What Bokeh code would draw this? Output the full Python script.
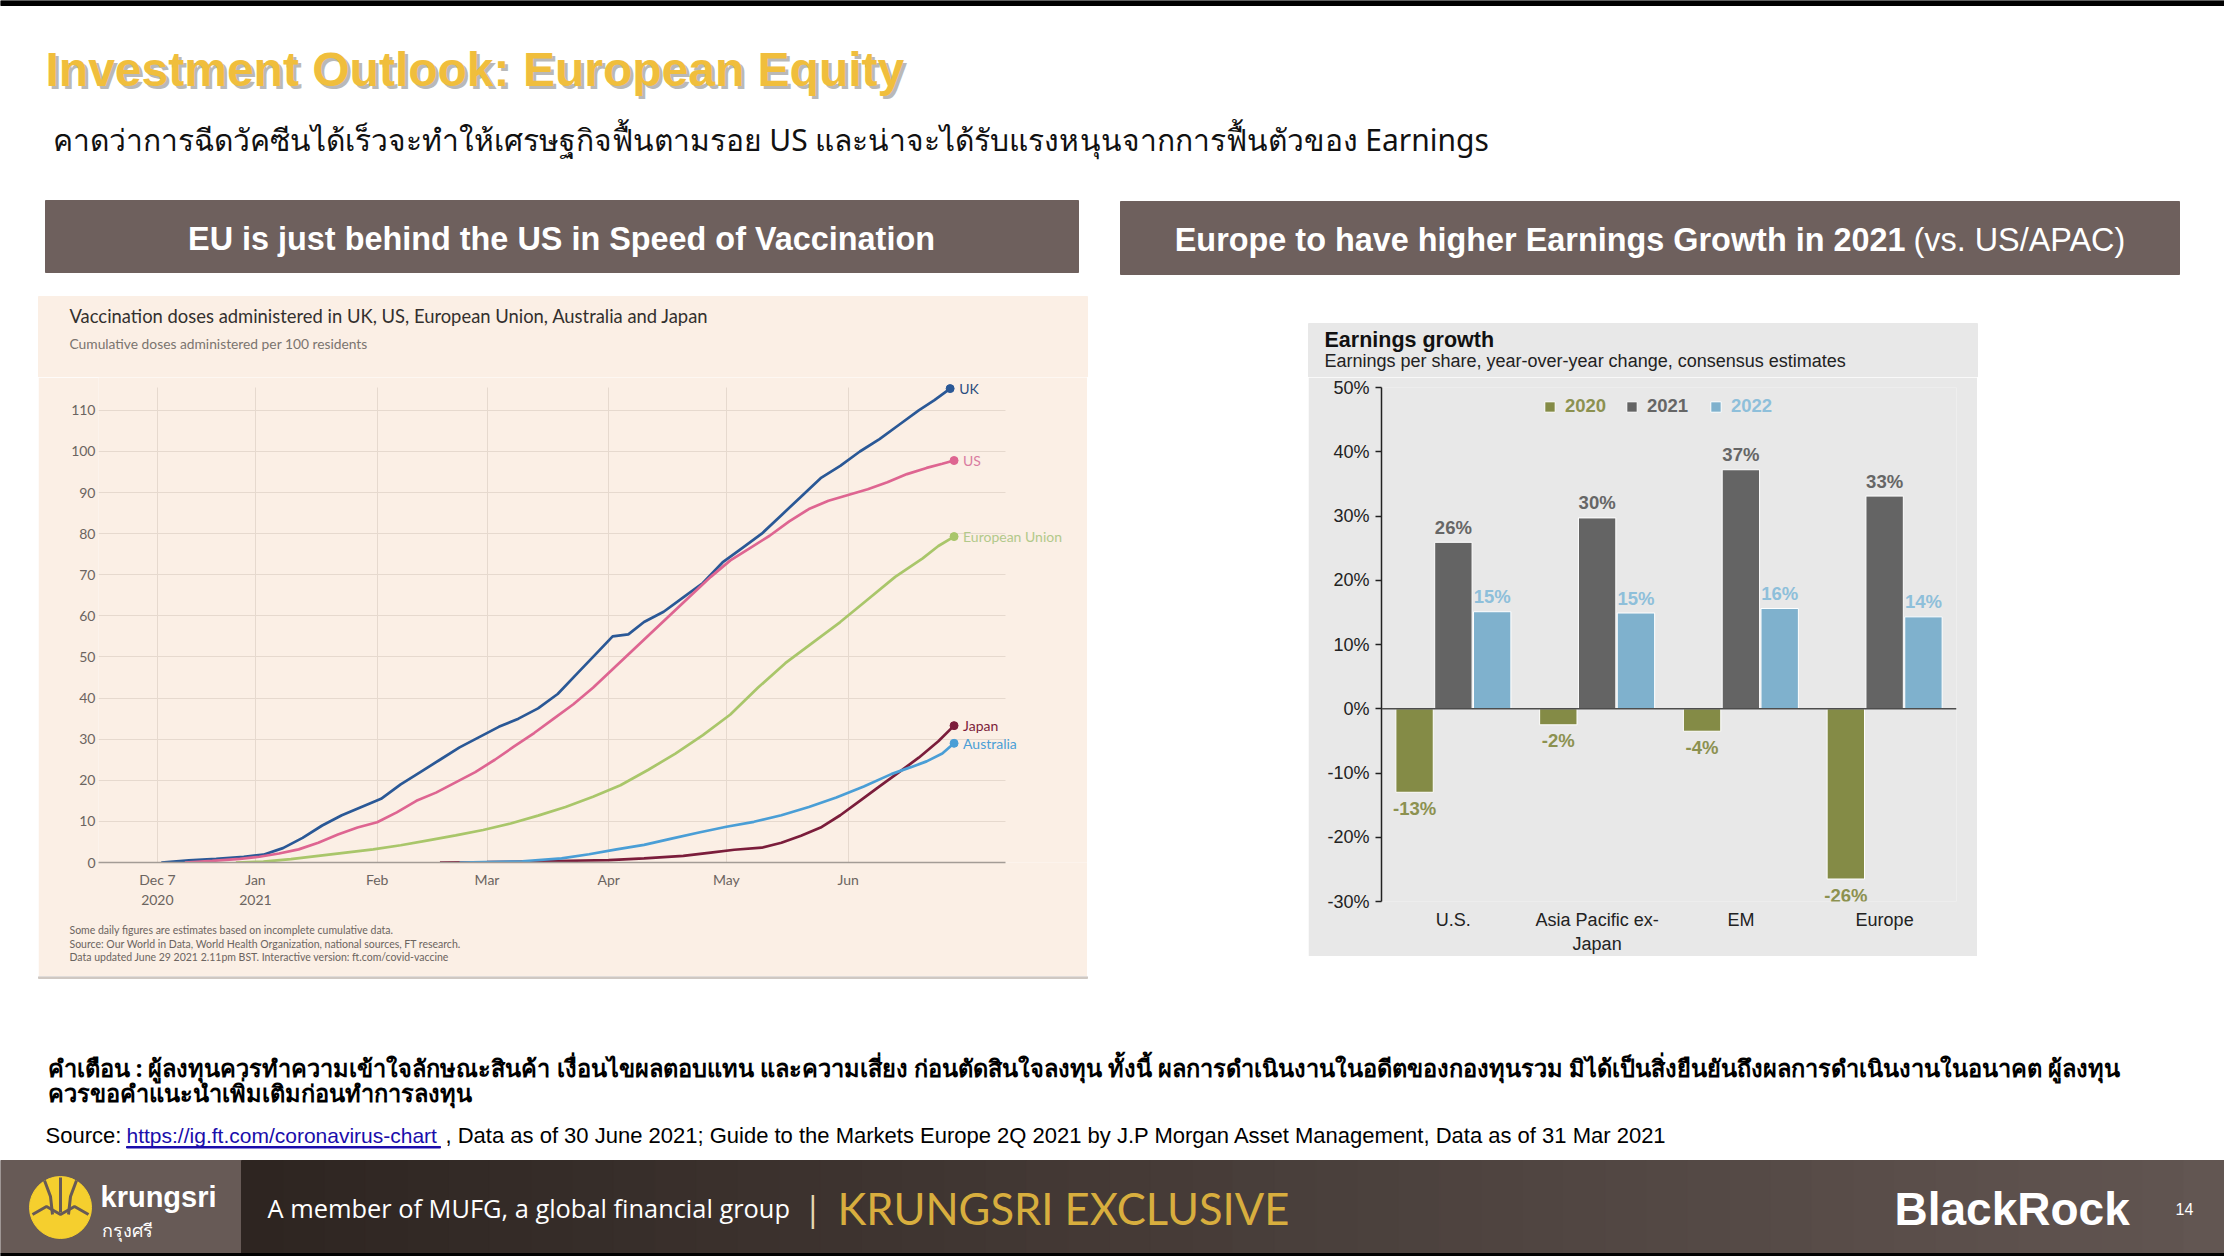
import pandas as pd
from bokeh.plotting import figure
from bokeh.layouts import column, row
from bokeh.models import (Range1d, FactorRange, FixedTicker, Label, Span, Legend, LegendItem,
                          ColumnDataSource, PrintfTickFormatter, Spacer, Title, Grid)
from bokeh.transform import dodge
from bokeh.core.properties import value
from bokeh.embed import file_html
from bokeh.resources import INLINE

# ---------------- data: vaccination chart (cumulative doses per 100 residents) ----------------
uk_dates = ["2020-12-08", "2020-12-15", "2020-12-22", "2020-12-29", "2021-01-03", "2021-01-08",
            "2021-01-13", "2021-01-18", "2021-01-23", "2021-01-28", "2021-02-02", "2021-02-07",
            "2021-02-12", "2021-02-17", "2021-02-22", "2021-02-27", "2021-03-04", "2021-03-09",
            "2021-03-14", "2021-03-19", "2021-03-24", "2021-03-29", "2021-04-02", "2021-04-06",
            "2021-04-10", "2021-04-15", "2021-04-20", "2021-04-25", "2021-04-30", "2021-05-05",
            "2021-05-10", "2021-05-15", "2021-05-20", "2021-05-25", "2021-05-30", "2021-06-04",
            "2021-06-09", "2021-06-14", "2021-06-19", "2021-06-23", "2021-06-27"]
uk_doses = [0.0, 0.5, 0.9, 1.4, 1.9, 3.5, 6.0, 9.0, 11.5, 13.5, 15.5, 19.0, 22.0, 25.0, 28.0, 30.5,
            33.0, 35.0, 37.5, 41.0, 46.0, 51.0, 55.0, 55.5, 58.5, 61.0, 64.5, 68.0, 73.0, 76.5,
            80.0, 84.5, 89.0, 93.5, 96.5, 100.0, 103.0, 106.5, 110.0, 112.5, 115.3]

us_dates = ["2020-12-14", "2020-12-21", "2020-12-28", "2021-01-02", "2021-01-07", "2021-01-12",
            "2021-01-17", "2021-01-22", "2021-01-27", "2021-02-01", "2021-02-06", "2021-02-11",
            "2021-02-16", "2021-02-21", "2021-02-26", "2021-03-03", "2021-03-08", "2021-03-13",
            "2021-03-18", "2021-03-23", "2021-03-28", "2021-04-02", "2021-04-07", "2021-04-12",
            "2021-04-17", "2021-04-22", "2021-04-27", "2021-05-02", "2021-05-07", "2021-05-12",
            "2021-05-17", "2021-05-22", "2021-05-27", "2021-06-01", "2021-06-06", "2021-06-11",
            "2021-06-16", "2021-06-21", "2021-06-25", "2021-06-28"]
us_doses = [0.0, 0.4, 0.9, 1.4, 2.2, 3.2, 4.8, 6.8, 8.5, 9.8, 12.2, 15.0, 17.0, 19.5, 22.0, 25.0,
            28.3, 31.5, 35.0, 38.5, 42.5, 47.0, 51.5, 56.0, 60.5, 65.0, 69.5, 73.5, 76.5, 79.5,
            83.0, 86.0, 88.0, 89.4, 90.8, 92.5, 94.5, 96.0, 97.0, 97.8]

eu_dates = ["2020-12-27", "2021-01-03", "2021-01-10", "2021-01-17", "2021-01-24", "2021-01-31",
            "2021-02-07", "2021-02-14", "2021-02-21", "2021-02-28", "2021-03-07", "2021-03-14",
            "2021-03-21", "2021-03-28", "2021-04-04", "2021-04-11", "2021-04-18", "2021-04-25",
            "2021-05-02", "2021-05-09", "2021-05-16", "2021-05-23", "2021-05-30", "2021-06-06",
            "2021-06-13", "2021-06-20", "2021-06-24", "2021-06-28"]
eu_doses = [0.0, 0.2, 0.8, 1.6, 2.4, 3.2, 4.2, 5.4, 6.6, 7.9, 9.5, 11.4, 13.5, 16.0, 18.8, 22.5,
            26.5, 31.0, 36.0, 42.5, 48.5, 53.5, 58.5, 64.0, 69.5, 74.0, 77.0, 79.3]

jp_dates = ["2021-02-17", "2021-03-01", "2021-03-15", "2021-04-01", "2021-04-10", "2021-04-20",
            "2021-04-27", "2021-05-03", "2021-05-10", "2021-05-15", "2021-05-20", "2021-05-25",
            "2021-05-30", "2021-06-04", "2021-06-09", "2021-06-14", "2021-06-19", "2021-06-24",
            "2021-06-28"]
jp_doses = [0.0, 0.1, 0.3, 0.6, 1.0, 1.6, 2.4, 3.1, 3.6, 4.8, 6.5, 8.5, 11.5, 15.0, 18.5, 22.0,
            25.5, 29.5, 33.3]

au_dates = ["2021-02-22", "2021-03-10", "2021-03-20", "2021-03-27", "2021-04-03", "2021-04-10",
            "2021-04-17", "2021-04-24", "2021-05-01", "2021-05-08", "2021-05-15", "2021-05-22",
            "2021-05-29", "2021-06-05", "2021-06-12", "2021-06-17", "2021-06-21", "2021-06-25",
            "2021-06-28"]
au_doses = [0.0, 0.3, 1.0, 2.0, 3.2, 4.3, 5.8, 7.3, 8.7, 9.9, 11.5, 13.5, 15.8, 18.5, 21.5, 23.2,
            24.6, 26.5, 29.0]

series_names = ["UK", "US", "European Union", "Japan", "Australia"]
month_ticks = ["2020-12-07", "2021-01-01", "2021-02-01", "2021-03-01", "2021-04-01",
               "2021-05-01", "2021-06-01"]
month_labels = ["Dec 7\n2020", "Jan\n2021", "Feb", "Mar", "Apr", "May", "Jun"]
dose_ticks = [0, 10, 20, 30, 40, 50, 60, 70, 80, 90, 100, 110]

# ---------------- data: earnings growth chart ----------------
regions = ["U.S.", "Asia Pacific ex-\nJapan", "EM", "Europe"]
growth_2020 = [-13.0, -2.5, -3.5, -26.5]
growth_2021 = [25.9, 29.7, 37.2, 33.1]
growth_2022 = [15.1, 14.9, 15.6, 14.3]
labels_2020 = ["-13%", "-2%", "-4%", "-26%"]
labels_2021 = ["26%", "30%", "37%", "33%"]
labels_2022 = ["15%", "15%", "16%", "14%"]
growth_ticks = [-30, -20, -10, 0, 10, 20, 30, 40, 50]

# ---------------- styling ----------------
W, H = 2224, 1256
ARIAL = "Liberation Sans"
FT_FONT = "Lato"
THAI = "Noto Sans"
CREAM = "#FBEFE5"
GREY_BG = "#E8E8E8"
HEADER = "#6E605D"
GOLD = "#F0BE3C"


def ms(d):
    return pd.Timestamp(d).value / 1e6


def deco_figure(width, height, x0, y0, bg="white"):
    """A blank panel whose data units are page pixels (y pointing down)."""
    f = figure(width=width, height=height, x_range=Range1d(x0, x0 + width),
               y_range=Range1d(y0 + height, y0),
               x_axis_location=None, y_axis_location=None, toolbar_location=None,
               output_backend="svg", min_border=0, outline_line_color=None,
               background_fill_color=bg, border_fill_color=bg)
    f.grid.visible = False
    return f


def lab(f, x, y, text, size, color="black", font=ARIAL, style="normal", align="left",
        baseline="middle", alpha=1.0):
    f.add_layout(Label(x=x, y=y, text=text, text_font=font, text_font_size=f"{size}px",
                       text_font_style=style, text_color=color, text_align=align,
                       text_baseline=baseline, text_alpha=alpha))


# ================= top band: title, subtitle, section headers, chart heads =================
TOP_H = 377
top = deco_figure(W, TOP_H, 0, 0)
top.quad(left=0, right=W, top=0, bottom=5, color="black")
lab(top, 48, 72, "Investment Outlook: European Equity", 48, "#9A9A9A", style="bold", alpha=0.7)
lab(top, 45, 69, "Investment Outlook: European Equity", 48, GOLD, style="bold")
lab(top, 52, 139, "คาดว่าการฉีดวัคซีนได้เร็วจะทำให้เศรษฐกิจฟื้นตามรอย US และน่าจะได้รับแรงหนุนจากการฟื้นตัวของ Earnings",
    30, "#111111", font=THAI)
top.quad(left=45, right=1078, top=200, bottom=272, color=HEADER)
top.quad(left=1120, right=2179, top=201, bottom=274, color=HEADER)
lab(top, 561, 238, "EU is just behind the US in Speed of Vaccination", 32.4, "white", style="bold",
    align="center")
lab(top, 1905, 239, "Europe to have higher Earnings Growth in 2021", 32.4, "white", style="bold",
    align="right")
lab(top, 1913, 239, "(vs. US/APAC)", 32.4, "white", align="left")
# head of the FT chart panel
top.quad(left=38, right=1087, top=296, bottom=TOP_H + 1, color=CREAM)
lab(top, 69, 315, "Vaccination doses administered in UK, US, European Union, Australia and Japan",
    18.4, "#33302E", font=FT_FONT)
lab(top, 69, 343, "Cumulative doses administered per 100 residents", 13.8, "#7A746F", font=FT_FONT)
# head of the J.P. Morgan chart panel
top.quad(left=1308, right=1977, top=323, bottom=TOP_H + 1, color=GREY_BG)
lab(top, 1324, 339, "Earnings growth", 21.5, "#111111", style="bold")
lab(top, 1324, 360, "Earnings per share, year-over-year change, consensus estimates", 18,
    "#222222")

# ================= left chart: FT vaccination =================
x_start, x_axis_end, x_end = ms("2020-11-22"), ms("2021-07-11"), ms("2021-08-01")
left = figure(width=1049, height=976 - TOP_H, x_axis_type="datetime",
              x_range=Range1d(x_start, x_end), y_range=Range1d(0, 118),
              toolbar_location=None, output_backend="svg",
              min_border_left=60, min_border_right=0, min_border_top=0, min_border_bottom=114,
              background_fill_color=CREAM, border_fill_color=CREAM, outline_line_color=None)
left.xaxis.ticker = FixedTicker(ticks=[ms(d) for d in month_ticks])
left.xaxis.major_label_overrides = {ms(d): t for d, t in zip(month_ticks, month_labels)}
left.xaxis.bounds = (x_start, x_axis_end)
left.xaxis.axis_line_color = "#A39C96"
left.xaxis.axis_line_width = 1.5
left.xaxis.major_tick_line_color = None
left.xaxis.major_tick_out = 0
left.xaxis.minor_tick_line_color = None
left.xaxis.major_label_standoff = 8
left.yaxis.ticker = FixedTicker(ticks=dose_ticks)
left.yaxis.axis_line_color = None
left.yaxis.major_tick_line_color = None
left.yaxis.major_tick_out = 0
left.yaxis.minor_tick_line_color = None
left.yaxis.major_label_standoff = 3
for ax in (left.xaxis, left.yaxis):
    ax.major_label_text_font = FT_FONT
    ax.major_label_text_font_size = "14px"
    ax.major_label_text_color = "#6B6460"
left.xgrid.grid_line_color = "#E6D9CE"
left.ygrid.grid_line_color = "#E6D9CE"
if "cross_bounds" in Grid.properties():
    left.ygrid.cross_bounds = (x_start, x_axis_end)
    left.xgrid.cross_bounds = (0, 115.5)

vacc = [(uk_dates, uk_doses, "#2A5896", "#2A4C7E"),
        (us_dates, us_doses, "#DE6591", "#D97BA0"),
        (eu_dates, eu_doses, "#A9C66A", "#B2C98A"),
        (jp_dates, jp_doses, "#7B1D3B", "#7B1D3B"),
        (au_dates, au_doses, "#4A9ED6", "#4A9ED6")]
for name, (d, v, c, tc) in zip(series_names, vacc):
    xs = pd.to_datetime(d)
    left.line(x=xs, y=v, line_color=c, line_width=2.7)
    left.scatter(x=[xs[-1]], y=[v[-1]], size=8, color=c)
    left.text(x=[xs[-1]], y=[v[-1]], text=[name], x_offset=9, text_baseline="middle",
              text_font=value(FT_FONT), text_font_size="14px", text_color=tc)

left.add_layout(Title(text="Some daily figures are estimates based on incomplete cumulative data.\n"
                           "Source: Our World in Data, World Health Organization, national sources, FT research.\n"
                           "Data updated June 29 2021 2.11pm BST. Interactive version: ft.com/covid-vaccine",
                      align="left", offset=-29, standoff=22, text_font=FT_FONT,
                      text_font_size="10.5px", text_font_style="normal", text_color="#6B6460",
                      text_line_height=1.15), "below")

# ================= right chart: J.P. Morgan earnings growth =================
right = figure(width=669, height=956 - TOP_H, x_range=FactorRange(factors=regions),
               y_range=Range1d(-30, 50), toolbar_location=None, output_backend="svg",
               min_border_left=73, min_border_right=21, min_border_top=387 - TOP_H,
               min_border_bottom=55,
               background_fill_color=GREY_BG, border_fill_color=GREY_BG, outline_line_color=None)
right.grid.visible = False
right.yaxis.ticker = FixedTicker(ticks=growth_ticks)
right.yaxis.formatter = PrintfTickFormatter(format="%d%%")
right.yaxis.axis_line_color = "#222222"
right.yaxis.axis_line_width = 1.5
right.yaxis.major_tick_line_color = "#222222"
right.yaxis.major_tick_line_width = 1.5
right.yaxis.major_tick_in = 0
right.yaxis.major_tick_out = 6
right.yaxis.minor_tick_line_color = None
right.yaxis.major_label_standoff = 6
right.yaxis.major_label_text_font_size = "18px"
right.xaxis.axis_line_color = None
right.xaxis.major_tick_line_color = None
right.xaxis.major_tick_out = 0
right.xaxis.major_label_standoff = 8
right.xaxis.major_label_text_font_size = "18px"
for ax in (right.xaxis, right.yaxis):
    ax.major_label_text_font = ARIAL
    ax.major_label_text_color = "#222222"
right.add_layout(Span(location=0, dimension="width", line_color="#4D4D4D", line_width=1.5))

src = ColumnDataSource(dict(region=regions, g2020=growth_2020, g2021=growth_2021,
                            g2022=growth_2022, l2020=labels_2020, l2021=labels_2021,
                            l2022=labels_2022))
bar_specs = [("2020", -0.27, "#848B46", "#8C9150"),
             ("2021", 0.0, "#646464", "#666666"),
             ("2022", 0.27, "#7FB1CD", "#8EBFDA")]
legend_x = [162, 244, 328]
for (yr, off, col, tcol), lx in zip(bar_specs, legend_x):
    r = right.vbar(x=dodge("region", off, range=right.x_range), top="g" + yr, bottom=0,
                   width=0.26, source=src, fill_color=col, line_color="white", line_width=1)
    vals = src.data["g" + yr]
    offs = [-15 if v >= 0 else 16 for v in vals]
    lsrc = ColumnDataSource(dict(region=regions, y=vals, t=src.data["l" + yr], off=offs))
    right.text(x=dodge("region", off, range=right.x_range), y="y", text="t", y_offset="off",
               source=lsrc, text_align="center", text_baseline="middle",
               text_font=value(ARIAL), text_font_style="bold", text_font_size="18.5px",
               text_color=tcol)
    right.add_layout(Legend(items=[LegendItem(label=yr, renderers=[r])], location=(lx, 484),
                            orientation="horizontal", label_text_font=ARIAL,
                            label_text_font_size="18.5px", label_text_font_style="bold",
                            label_text_color=tcol, glyph_width=13, glyph_height=13,
                            label_standoff=9, padding=0, margin=0, border_line_color=None,
                            background_fill_alpha=0))

# ================= bottom band: disclaimer, source, footer =================
bot = deco_figure(W, 280, 0, 976)
bot.quad(left=38, right=1087, top=976, bottom=978, color="#CFC8C2")
lab(bot, 47, 1067,
    "คำเตือน : ผู้ลงทุนควรทำความเข้าใจลักษณะสินค้า เงื่อนไขผลตอบแทน และความเสี่ยง ก่อนตัดสินใจลงทุน ทั้งนี้ ผลการดำเนินงานในอดีตของกองทุนรวม มิได้เป็นสิ่งยืนยันถึงผลการดำเนินงานในอนาคต ผู้ลงทุน",
    23.6, "black", font=THAI, style="bold")
lab(bot, 47, 1092, "ควรขอคำแนะนำเพิ่มเติมก่อนทำการลงทุน", 23.6, "black", font=THAI, style="bold")
lab(bot, 45, 1135, "Source:", 22, "black")
lab(bot, 126, 1135, "https://ig.ft.com/coronavirus-chart", 21, "#1A0DAB")
bot.quad(left=126, right=440, top=1146, bottom=1147.5, color="#1A0DAB")
lab(bot, 445, 1135,
    ", Data as of 30 June 2021; Guide to the Markets Europe 2Q 2021 by J.P Morgan Asset Management, Data as of 31 Mar 2021",
    22, "black")

# footer bar
bot.quad(left=0, right=241, top=1160, bottom=1253, color="#675A56")
n_strips = 48
c0, c1 = (46, 37, 33), (98, 86, 82)
x0, x1 = 241, W
for i in range(n_strips):
    t = i / (n_strips - 1)
    col = "#%02x%02x%02x" % tuple(int(a + (b - a) * t) for a, b in zip(c0, c1))
    xa = x0 + (x1 - x0) * i / n_strips
    xb = x0 + (x1 - x0) * (i + 1) / n_strips + 1
    bot.quad(left=xa, right=xb, top=1160, bottom=1253, color=col)
bot.quad(left=0, right=W, top=1253, bottom=1256, color="black")
# krungsri logo
bot.ellipse(x=60, y=1207, width=62, height=62, color="#F5CF2E")
bot.multi_line(xs=[[44, 50, 52], [60, 60], [76, 70, 68], [32, 46, 60, 74, 88]],
               ys=[[1180, 1196, 1214], [1177, 1212], [1180, 1196, 1214], [1214, 1206, 1214, 1206, 1214]],
               line_color="#675A56", line_width=3)
lab(bot, 100, 1196, "krungsri", 29, "white", style="bold")
lab(bot, 101, 1229, "กรุงศรี", 18, "white", font=THAI)
lab(bot, 267, 1207, "A member of MUFG, a global financial group", 25.4, "white", font="Open Sans")
lab(bot, 803, 1207, "|", 34, "#E6D8B0", font="Open Sans")
lab(bot, 837, 1207, "KRUNGSRI EXCLUSIVE", 43.5, "#D8AE3E", font=FT_FONT)
lab(bot, 1894, 1208, "BlackRock", 46, "white", style="bold")
lab(bot, 2175, 1208, "14", 16, "white")

# ================= assemble =================
right_panel = column(right, Spacer(width=669, height=20))
middle = row(Spacer(width=38, height=976 - TOP_H), left, Spacer(width=221, height=976 - TOP_H),
             right_panel, Spacer(width=247, height=976 - TOP_H))
page = column(top, middle, bot)

open("out.html", "w").write(file_html(page, INLINE))
